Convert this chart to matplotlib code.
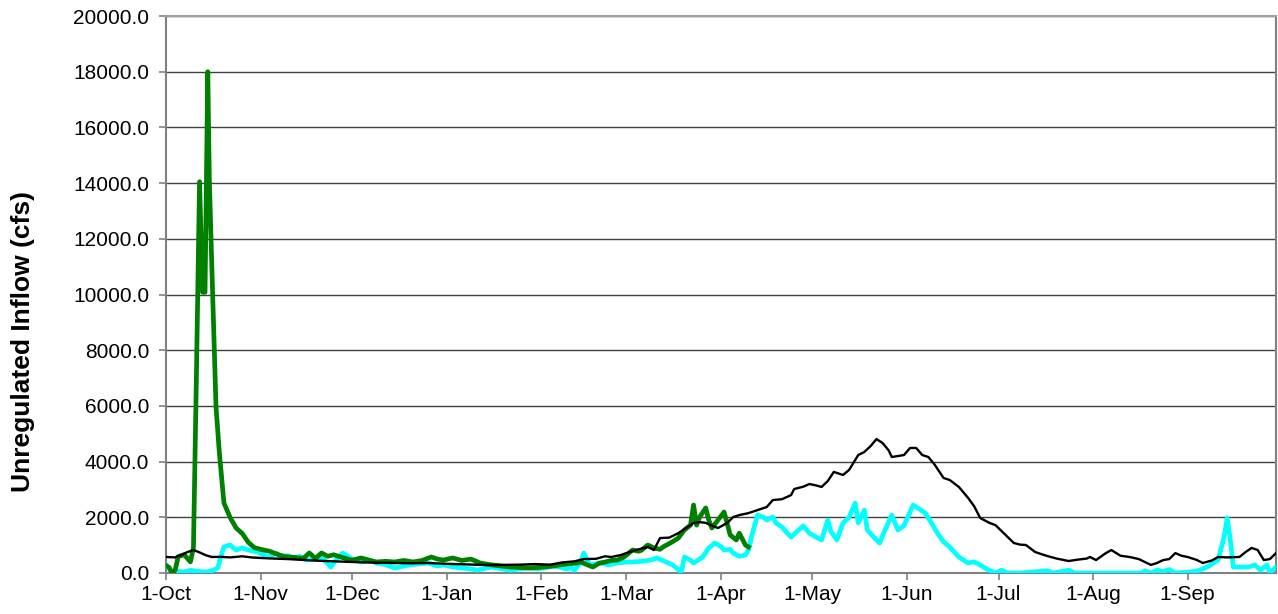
import matplotlib
matplotlib.use("Agg")
import matplotlib.pyplot as plt
import matplotlib.dates as mdates
from matplotlib.ticker import FuncFormatter
import numpy as np
import datetime as dt

# Water year start; series positions are days after this date
start_date = dt.date(2022, 10, 1)

# Green series (current year, through early April)
green_days = [0, 1, 2, 3, 4, 6, 8, 9, 10, 11, 12, 12.8, 13.7, 14.2, 15, 16.4, 17.5, 19, 21, 23,
              25, 27, 29, 31, 34, 37, 39, 42, 45, 47, 49, 51, 53, 55, 58, 61, 64, 67, 69, 72,
              75, 78, 81, 84, 87, 89, 91, 94, 97, 100, 103, 105, 107, 110, 113, 116, 119, 122, 124, 127,
              129, 132, 135, 136, 138, 140, 142, 144, 146, 148, 150, 151, 153, 155, 156, 158, 160, 162, 163, 166,
              168, 170, 172, 173, 174, 175, 177, 178, 179, 181, 183, 184, 185, 187, 188, 190, 191]
green_cfs = [270, 200, 0, 100, 590, 655, 400, 910, 7250, 14050, 10080, 10080, 18000, 14180, 11100, 5975, 4310, 2515, 2000, 1615,
             1420, 1100, 910, 850, 780, 650, 590, 560, 520, 720, 525, 720, 600, 655, 550, 460, 540, 450, 395, 420,
             395, 450, 395, 450, 575, 500, 465, 540, 450, 500, 360, 320, 290, 250, 215, 200, 180, 200, 215, 250,
             290, 330, 360, 395, 300, 215, 350, 395, 450, 465, 560, 645, 825, 780, 825, 1005, 900, 850, 935, 1115,
             1255, 1545, 1720, 2440, 1720, 2010, 2335, 1900, 1615, 1900, 2190, 1795, 1365, 1185, 1430, 1005, 935]

# Cyan series (full year)
cyan_days = [0, 1, 2, 4, 6, 8, 10, 13, 15, 17, 18, 19, 21, 23, 25, 27, 30, 32, 34, 36,
             38, 40, 42, 44, 46, 49, 51, 53, 54, 56, 58, 61, 64, 67, 69, 72, 75, 78, 80, 83,
             86, 89, 91, 94, 97, 100, 102, 105, 107, 110, 113, 116, 119, 122, 124, 127, 129, 131, 133, 134,
             136, 137, 138, 139, 141, 143, 145, 148, 151, 153, 156, 159, 161, 164, 166, 169, 170, 172, 173, 175,
             176, 178, 180, 182, 183, 185, 186, 188, 190, 191, 192, 193, 194, 196, 197, 199, 200, 202, 204, 205,
             207, 209, 211, 213, 215, 217, 218, 220, 222, 224, 226, 227, 229, 230, 232, 234, 236, 238, 240, 242,
             245, 247, 249, 251, 253, 255, 257, 260, 263, 265, 267, 269, 272, 274, 276, 280, 289, 291, 296, 298,
             320, 321, 323, 325, 327, 329, 331, 338, 340, 342, 344, 345, 347, 348, 349, 350, 352, 355, 357, 359,
             361, 362, 364]
cyan_cfs = [290, 150, 35, 60, 35, 100, 60, 35, 80, 180, 600, 935, 1005, 825, 900, 825, 755, 650, 575, 715,
            600, 620, 540, 600, 465, 500, 540, 350, 215, 500, 715, 500, 395, 450, 360, 300, 180, 250, 290, 330,
            360, 250, 290, 220, 180, 150, 100, 180, 215, 150, 100, 150, 180, 150, 180, 250, 215, 150, 180, 100,
            400, 715, 500, 290, 330, 360, 290, 360, 395, 395, 420, 465, 540, 395, 300, 35, 575, 465, 360, 500,
            575, 900, 1075, 950, 825, 850, 715, 600, 645, 825, 1290, 1700, 2080, 2000, 1900, 2010, 1800, 1650, 1400, 1290,
            1500, 1690, 1430, 1300, 1185, 1900, 1500, 1185, 1795, 2000, 2510, 1795, 2260, 1545, 1300, 1075, 1600, 2080, 1545, 1700,
            2440, 2300, 2150, 1800, 1430, 1115, 935, 575, 360, 400, 290, 150, 0, 100, 0, 0, 80, 0, 100, 0,
            0, 80, 0, 100, 60, 120, 0, 60, 150, 250, 400, 465, 1300, 1975, 1200, 215, 215, 215, 290, 100,
            290, 0, 215]

# Black series (full year)
black_days = [0, 3, 5, 7, 9, 11, 13, 15, 18, 21, 25, 28, 31, 35, 40, 45, 50, 55, 60, 65,
              70, 75, 80, 86, 92, 98, 104, 110, 116, 121, 126, 130, 134, 137, 141, 144, 146, 149, 152, 155,
              158, 160, 162, 165, 168, 171, 173, 175, 177, 179, 181, 184, 186, 188, 191, 194, 197, 199, 202, 205,
              206, 209, 211, 213, 215, 217, 219, 222, 224, 227, 229, 231, 233, 235, 237, 238, 240, 242, 244, 246,
              248, 250, 252, 255, 257, 260, 263, 265, 267, 270, 272, 275, 278, 280, 282, 285, 287, 289, 292, 296,
              299, 302, 303, 305, 308, 310, 313, 316, 319, 323, 325, 327, 329, 331, 333, 335, 338, 340, 343, 345,
              348, 352, 354, 356, 358, 360, 362, 364]
black_cfs = [575, 560, 650, 750, 825, 740, 640, 575, 580, 560, 600, 560, 540, 520, 500, 470, 440, 420, 400, 380,
             370, 360, 350, 360, 330, 310, 290, 290, 300, 320, 300, 380, 420, 500, 510, 600, 575, 640, 755, 850,
             935, 825, 1255, 1270, 1430, 1650, 1795, 1830, 1800, 1700, 1615, 1795, 2010, 2080, 2150, 2260, 2370, 2620, 2650, 2800,
             3015, 3100, 3195, 3150, 3090, 3300, 3630, 3520, 3700, 4235, 4345, 4550, 4810, 4665, 4400, 4165, 4200, 4235, 4490, 4490,
             4235, 4165, 3900, 3410, 3340, 3090, 2700, 2400, 1975, 1800, 1720, 1400, 1080, 1020, 1005, 755, 680, 610, 520, 430,
             480, 520, 575, 465, 700, 825, 620, 575, 500, 290, 360, 465, 500, 715, 620, 575, 470, 360, 450, 575,
             560, 575, 750, 900, 825, 465, 500, 715]

y_ticks = np.arange(0, 20001, 2000)


def to_num(days):
    base = mdates.date2num(start_date)
    return base + np.asarray(days, dtype=float)


plt.rcParams['font.family'] = ['Liberation Sans', 'DejaVu Sans']

fig = plt.figure(figsize=(12.78, 6.14), dpi=100)
ax = fig.add_axes([166 / 1278, 41 / 614, 1110 / 1278, 557 / 614])

ax.plot(to_num(cyan_days), cyan_cfs, color='#00FFFF', lw=3.4, solid_joinstyle='round', zorder=3)
ax.plot(to_num(green_days), green_cfs, color='#008000', lw=3.4, solid_joinstyle='round', zorder=4)
ax.plot(to_num(black_days), black_cfs, color='#000000', lw=1.7, solid_joinstyle='round', zorder=5)

ax.set_xlim(to_num([0])[0], to_num([364])[0])
ax.set_ylim(0, 20000)
ax.set_yticks(y_ticks)
ax.yaxis.set_major_formatter(FuncFormatter(lambda v, p: f"{v:.1f}"))

ax.xaxis.set_major_locator(mdates.MonthLocator(bymonthday=1))
ax.xaxis.set_major_formatter(FuncFormatter(
    lambda v, p: f"{mdates.num2date(v).day}-{mdates.num2date(v).strftime('%b')}"))

ax.grid(axis='y', color='#404040', lw=1.0, zorder=1)
ax.set_axisbelow(True)

for side in ('left', 'bottom', 'right'):
    ax.spines[side].set_color('#808080')
    ax.spines[side].set_linewidth(1.5)
ax.spines['top'].set_color('#a0a0a0')
ax.spines['top'].set_linewidth(1.5)

ax.tick_params(axis='both', direction='out', length=5, width=1.2, color='#808080',
               labelsize=15, labelcolor='black')
ax.tick_params(axis='x', pad=4)
ax.tick_params(axis='y', pad=7)

fig.text(23 / 1278, 1 - 342 / 614, 'Unregulated Inflow (cfs)', rotation=90,
         ha='center', va='center', fontsize=19, fontweight='bold')

fig.savefig('out.png', dpi=100)
